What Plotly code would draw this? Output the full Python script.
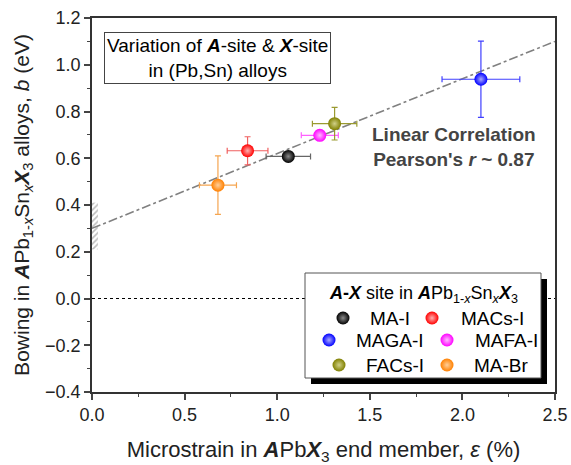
import plotly.graph_objects as go

names = ["MA-I", "MACs-I", "MAGA-I", "MAFA-I", "FACs-I", "MA-Br"]
strain = [1.06, 0.84, 2.10, 1.23, 1.31, 0.68]
strain_err = [0.12, 0.11, 0.21, 0.10, 0.12, 0.10]
bowing = [0.608, 0.632, 0.938, 0.698, 0.748, 0.485]
bowing_err = [0.0, 0.06, 0.163, 0.02, 0.07, 0.125]
colors = ["#000000", "#ff0000", "#0000ff", "#ff00ff", "#808000", "#ff8000"]
highlight = ["#8a8a8a", "#ffb0b0", "#a8a8ff", "#ffb8ff", "#d0d088", "#ffcf9a"]
err_colors = ["#666666", "#f06060", "#4040ff", "#ff60ff", "#9a9a30", "#f5a550"]

fit_x = [0.0, 2.5]
fit_y = [0.30, 1.10]

hatch_x = [0.016]
hatch_base = [0.21]
hatch_h = [0.20]

FONT = "Liberation Sans, Arial, sans-serif"

# plot area in pixels (layout only)
L, R, T, B = 92, 555, 18, 392
def px(xp):
    return (xp - L) / (R - L)
def py(yp):
    return (B - yp) / (B - T)

fig = go.Figure()

fig.add_trace(go.Bar(x=hatch_x, y=hatch_h, base=hatch_base, width=0.032,
                     marker=dict(color="white", line=dict(width=0),
                                 pattern=dict(shape="/", fgcolor="#777777", size=4, solidity=0.4)),
                     showlegend=False, hoverinfo="skip"))

fig.add_trace(go.Scatter(x=[0, 2.5], y=[0, 0], mode="lines",
                         line=dict(color="black", width=1, dash="dot"),
                         showlegend=False, hoverinfo="skip"))

fig.add_trace(go.Scatter(x=fit_x, y=fit_y, mode="lines",
                         line=dict(color="#808080", width=1.6, dash="dashdot"),
                         showlegend=False, hoverinfo="skip"))

for n, x, xe, y, ye, c, hc, ec in zip(names, strain, strain_err, bowing, bowing_err, colors, highlight, err_colors):
    fig.add_trace(go.Scatter(
        x=[x], y=[y], mode="markers", name=n, showlegend=False,
        marker=dict(size=13, color=c, line=dict(width=0),
                    gradient=dict(type="radial", color=hc)),
        error_x=dict(type="constant", value=xe, color=ec, thickness=1.2, width=3, visible=xe > 0),
        error_y=dict(type="constant", value=ye, color=ec, thickness=1.2, width=3, visible=ye > 0),
    ))

# ---- manual legend on an overlay axis spanning the plot area ----
bx0, bx1, by0, by1 = 305, 541, 273, 378
sh = 6
fig.add_trace(go.Scatter(
    x=[px(bx0 + sh), px(bx1 + sh), px(bx1 + sh), px(bx0 + sh), px(bx0 + sh)],
    y=[py(by1 + sh), py(by1 + sh), py(by0 + sh), py(by0 + sh), py(by1 + sh)],
    xaxis="x2", yaxis="y2", mode="lines", fill="toself", fillcolor="black",
    line=dict(width=0, color="black"), showlegend=False, hoverinfo="skip"))
fig.add_trace(go.Scatter(
    x=[px(bx0), px(bx1), px(bx1), px(bx0), px(bx0)],
    y=[py(by1), py(by1), py(by0), py(by0), py(by1)],
    xaxis="x2", yaxis="y2", mode="lines", fill="toself", fillcolor="white",
    line=dict(width=1, color="#555555"), showlegend=False, hoverinfo="skip"))

leg_marker_px = [343, 432, 329, 447, 339, 447]
leg_text_px = [390, 492, 390, 506, 395, 501]
leg_row_px = [318, 318, 340, 340, 365, 365]
for n, c, hc, mx, tx, ry in zip(names, colors, highlight, leg_marker_px, leg_text_px, leg_row_px):
    fig.add_trace(go.Scatter(
        x=[px(mx)], y=[py(ry)], xaxis="x2", yaxis="y2", mode="markers",
        marker=dict(size=13, color=c, line=dict(width=0),
                    gradient=dict(type="radial", color=hc)),
        showlegend=False, hoverinfo="skip"))
    fig.add_annotation(xref="paper", yref="paper", x=px(tx), y=py(ry), text=n,
                       showarrow=False, xanchor="center", yanchor="middle",
                       font=dict(family=FONT, size=19, color="black"))

fig.add_annotation(xref="paper", yref="paper", x=px(423), y=py(294),
                   text="<b><i>A</i>-<i>X</i></b> site in <b><i>A</i></b>Pb<sub>1-<i>x</i></sub>Sn<sub><i>x</i></sub><b><i>X</i></b><sub>3</sub>",
                   showarrow=False, xanchor="center", yanchor="middle",
                   font=dict(family=FONT, size=18, color="black"))

fig.add_annotation(xref="x", yref="y", x=0.68, y=1.03,
                   text="Variation of <b><i>A</i></b>-site & <b><i>X</i></b>-site<br>in (Pb,Sn) alloys",
                   showarrow=False, font=dict(family=FONT, size=19, color="black"),
                   bordercolor="#444444", borderwidth=1, borderpad=2, bgcolor="white", align="center")

fig.add_annotation(xref="x", yref="y", x=1.955, y=0.647,
                   text="<b>Linear Correlation<br>Pearson's <i>r</i> ~ 0.87</b>",
                   showarrow=False, font=dict(family=FONT, size=19, color="#444444"), align="center")

fig.update_layout(
    width=571, height=465,
    margin=dict(l=L, r=571 - R, t=T, b=465 - B),
    paper_bgcolor="white", plot_bgcolor="white",
    font=dict(family=FONT, size=18, color="black"),
    barmode="overlay",
    showlegend=False,
    xaxis=dict(range=[0, 2.5], tickvals=[0, 0.5, 1.0, 1.5, 2.0, 2.5], tickformat=".1f",
               ticks="outside", ticklen=6, tickwidth=1.5, linecolor="#333333", linewidth=1.5,
               mirror=True, showgrid=False, zeroline=False, automargin=False,
               minor=dict(tickvals=[0.25, 0.75, 1.25, 1.75, 2.25], ticks="outside", ticklen=3, tickwidth=1.2),
               tickfont=dict(size=18, color="#222222"),
               title=dict(text="Microstrain in <b><i>A</i></b>Pb<b><i>X</i></b><sub>3</sub> end member, <i>ε</i> (%)",
                          font=dict(size=22, color="#222222"), standoff=18)),
    yaxis=dict(range=[-0.4, 1.2], tickvals=[-0.4, -0.2, 0, 0.2, 0.4, 0.6, 0.8, 1.0, 1.2], tickformat=".1f",
               ticks="outside", ticklen=6, tickwidth=1.5, linecolor="#333333", linewidth=1.5,
               mirror=True, showgrid=False, zeroline=False, automargin=False,
               minor=dict(tickvals=[-0.3, -0.1, 0.1, 0.3, 0.5, 0.7, 0.9, 1.1], ticks="outside", ticklen=3, tickwidth=1.2),
               tickfont=dict(size=18, color="#222222"),
               title=dict(text="Bowing in <b><i>A</i></b>Pb<sub>1-<i>x</i></sub>Sn<sub><i>x</i></sub><b><i>X</i></b><sub>3</sub> alloys, <i>b</i> (eV)",
                          font=dict(size=21, color="#222222"), standoff=10)),
    xaxis2=dict(overlaying="x", range=[0, 1], visible=False, fixedrange=True),
    yaxis2=dict(overlaying="y", range=[0, 1], visible=False, fixedrange=True),
)

fig.write_html("out.html", config={"displayModeBar": False},
               post_script="document.body.style.margin='0';document.body.style.padding='0';")
